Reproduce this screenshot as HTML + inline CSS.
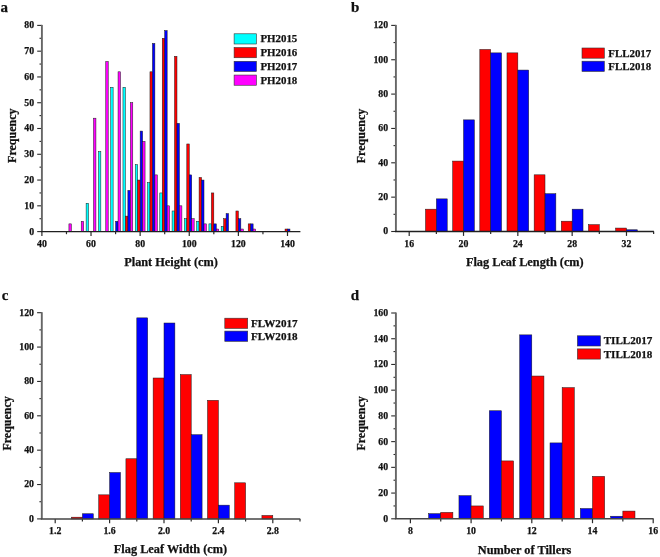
<!DOCTYPE html>
<html><head><meta charset="utf-8"><style>
html,body{margin:0;padding:0;background:#fff;}
body{width:660px;height:557px;overflow:hidden;}
svg{display:block;will-change:transform;filter:blur(0.3px);}
text{font-family:"Liberation Serif",serif;font-weight:bold;fill:#111;stroke:#111;stroke-width:0.25px;}
</style></head><body>
<svg width="660" height="557" viewBox="0 0 660 557">
<rect width="660" height="557" fill="#fff"/>
<rect x="86.11" y="203.25" width="2.46" height="28.35" fill="#00ffff" stroke="#1a1a1a" stroke-width="0.5"/>
<rect x="98.39" y="151.7" width="2.46" height="79.9" fill="#00ffff" stroke="#1a1a1a" stroke-width="0.5"/>
<rect x="110.67" y="87.26" width="2.46" height="144.34" fill="#00ffff" stroke="#1a1a1a" stroke-width="0.5"/>
<rect x="122.95" y="87.26" width="2.46" height="144.34" fill="#00ffff" stroke="#1a1a1a" stroke-width="0.5"/>
<rect x="135.23" y="164.59" width="2.46" height="67.01" fill="#00ffff" stroke="#1a1a1a" stroke-width="0.5"/>
<rect x="147.51" y="182.63" width="2.46" height="48.97" fill="#00ffff" stroke="#1a1a1a" stroke-width="0.5"/>
<rect x="159.79" y="192.94" width="2.46" height="38.66" fill="#00ffff" stroke="#1a1a1a" stroke-width="0.5"/>
<rect x="172.07" y="210.98" width="2.46" height="20.62" fill="#00ffff" stroke="#1a1a1a" stroke-width="0.5"/>
<rect x="184.35" y="218.71" width="2.46" height="12.89" fill="#00ffff" stroke="#1a1a1a" stroke-width="0.5"/>
<rect x="196.63" y="221.29" width="2.46" height="10.31" fill="#00ffff" stroke="#1a1a1a" stroke-width="0.5"/>
<rect x="208.91" y="223.87" width="2.46" height="7.73" fill="#00ffff" stroke="#1a1a1a" stroke-width="0.5"/>
<rect x="221.19" y="226.44" width="2.46" height="5.16" fill="#00ffff" stroke="#1a1a1a" stroke-width="0.5"/>
<rect x="125.4" y="216.13" width="2.46" height="15.47" fill="#ff0000" stroke="#1a1a1a" stroke-width="0.5"/>
<rect x="137.68" y="180.05" width="2.46" height="51.55" fill="#ff0000" stroke="#1a1a1a" stroke-width="0.5"/>
<rect x="149.96" y="71.8" width="2.46" height="159.8" fill="#ff0000" stroke="#1a1a1a" stroke-width="0.5"/>
<rect x="162.24" y="38.29" width="2.46" height="193.31" fill="#ff0000" stroke="#1a1a1a" stroke-width="0.5"/>
<rect x="174.52" y="56.33" width="2.46" height="175.27" fill="#ff0000" stroke="#1a1a1a" stroke-width="0.5"/>
<rect x="186.8" y="143.97" width="2.46" height="87.63" fill="#ff0000" stroke="#1a1a1a" stroke-width="0.5"/>
<rect x="199.08" y="177.47" width="2.46" height="54.13" fill="#ff0000" stroke="#1a1a1a" stroke-width="0.5"/>
<rect x="211.36" y="192.94" width="2.46" height="38.66" fill="#ff0000" stroke="#1a1a1a" stroke-width="0.5"/>
<rect x="223.64" y="218.71" width="2.46" height="12.89" fill="#ff0000" stroke="#1a1a1a" stroke-width="0.5"/>
<rect x="235.92" y="210.98" width="2.46" height="20.62" fill="#ff0000" stroke="#1a1a1a" stroke-width="0.5"/>
<rect x="248.2" y="223.87" width="2.46" height="7.73" fill="#ff0000" stroke="#1a1a1a" stroke-width="0.5"/>
<rect x="285.04" y="229.02" width="2.46" height="2.58" fill="#ff0000" stroke="#1a1a1a" stroke-width="0.5"/>
<rect x="115.58" y="221.29" width="2.46" height="10.31" fill="#0000ff" stroke="#1a1a1a" stroke-width="0.5"/>
<rect x="127.86" y="190.36" width="2.46" height="41.24" fill="#0000ff" stroke="#1a1a1a" stroke-width="0.5"/>
<rect x="140.14" y="131.08" width="2.46" height="100.52" fill="#0000ff" stroke="#1a1a1a" stroke-width="0.5"/>
<rect x="152.42" y="43.44" width="2.46" height="188.16" fill="#0000ff" stroke="#1a1a1a" stroke-width="0.5"/>
<rect x="164.7" y="30.56" width="2.46" height="201.04" fill="#0000ff" stroke="#1a1a1a" stroke-width="0.5"/>
<rect x="176.98" y="123.35" width="2.46" height="108.25" fill="#0000ff" stroke="#1a1a1a" stroke-width="0.5"/>
<rect x="189.26" y="174.9" width="2.46" height="56.7" fill="#0000ff" stroke="#1a1a1a" stroke-width="0.5"/>
<rect x="201.54" y="180.05" width="2.46" height="51.55" fill="#0000ff" stroke="#1a1a1a" stroke-width="0.5"/>
<rect x="213.82" y="223.87" width="2.46" height="7.73" fill="#0000ff" stroke="#1a1a1a" stroke-width="0.5"/>
<rect x="226.1" y="213.56" width="2.46" height="18.04" fill="#0000ff" stroke="#1a1a1a" stroke-width="0.5"/>
<rect x="238.38" y="218.71" width="2.46" height="12.89" fill="#0000ff" stroke="#1a1a1a" stroke-width="0.5"/>
<rect x="250.66" y="223.87" width="2.46" height="7.73" fill="#0000ff" stroke="#1a1a1a" stroke-width="0.5"/>
<rect x="287.5" y="229.02" width="2.46" height="2.58" fill="#0000ff" stroke="#1a1a1a" stroke-width="0.5"/>
<rect x="68.92" y="223.87" width="2.46" height="7.73" fill="#ff00ff" stroke="#1a1a1a" stroke-width="0.5"/>
<rect x="81.2" y="221.29" width="2.46" height="10.31" fill="#ff00ff" stroke="#1a1a1a" stroke-width="0.5"/>
<rect x="93.48" y="118.19" width="2.46" height="113.41" fill="#ff00ff" stroke="#1a1a1a" stroke-width="0.5"/>
<rect x="105.76" y="61.49" width="2.46" height="170.11" fill="#ff00ff" stroke="#1a1a1a" stroke-width="0.5"/>
<rect x="118.04" y="71.8" width="2.46" height="159.8" fill="#ff00ff" stroke="#1a1a1a" stroke-width="0.5"/>
<rect x="130.32" y="102.73" width="2.46" height="128.87" fill="#ff00ff" stroke="#1a1a1a" stroke-width="0.5"/>
<rect x="142.6" y="141.39" width="2.46" height="90.21" fill="#ff00ff" stroke="#1a1a1a" stroke-width="0.5"/>
<rect x="154.88" y="174.9" width="2.46" height="56.7" fill="#ff00ff" stroke="#1a1a1a" stroke-width="0.5"/>
<rect x="167.16" y="205.82" width="2.46" height="25.78" fill="#ff00ff" stroke="#1a1a1a" stroke-width="0.5"/>
<rect x="179.44" y="205.82" width="2.46" height="25.78" fill="#ff00ff" stroke="#1a1a1a" stroke-width="0.5"/>
<rect x="191.72" y="218.71" width="2.46" height="12.89" fill="#ff00ff" stroke="#1a1a1a" stroke-width="0.5"/>
<rect x="204" y="223.87" width="2.46" height="7.73" fill="#ff00ff" stroke="#1a1a1a" stroke-width="0.5"/>
<rect x="216.28" y="229.02" width="2.46" height="2.58" fill="#ff00ff" stroke="#1a1a1a" stroke-width="0.5"/>
<rect x="240.84" y="229.02" width="2.46" height="2.58" fill="#ff00ff" stroke="#1a1a1a" stroke-width="0.5"/>
<rect x="253.12" y="229.02" width="2.46" height="2.58" fill="#ff00ff" stroke="#1a1a1a" stroke-width="0.5"/>
<line x1="37.2" y1="231.6" x2="41.9" y2="231.6" stroke="#2a2a2a" stroke-width="1.1"/>
<text x="34.1" y="234.5" text-anchor="end" font-size="9.8">0</text>
<line x1="37.2" y1="205.82" x2="41.9" y2="205.82" stroke="#2a2a2a" stroke-width="1.1"/>
<text x="34.1" y="208.72" text-anchor="end" font-size="9.8">10</text>
<line x1="37.2" y1="180.05" x2="41.9" y2="180.05" stroke="#2a2a2a" stroke-width="1.1"/>
<text x="34.1" y="182.95" text-anchor="end" font-size="9.8">20</text>
<line x1="37.2" y1="154.28" x2="41.9" y2="154.28" stroke="#2a2a2a" stroke-width="1.1"/>
<text x="34.1" y="157.18" text-anchor="end" font-size="9.8">30</text>
<line x1="37.2" y1="128.5" x2="41.9" y2="128.5" stroke="#2a2a2a" stroke-width="1.1"/>
<text x="34.1" y="131.4" text-anchor="end" font-size="9.8">40</text>
<line x1="37.2" y1="102.73" x2="41.9" y2="102.73" stroke="#2a2a2a" stroke-width="1.1"/>
<text x="34.1" y="105.63" text-anchor="end" font-size="9.8">50</text>
<line x1="37.2" y1="76.95" x2="41.9" y2="76.95" stroke="#2a2a2a" stroke-width="1.1"/>
<text x="34.1" y="79.85" text-anchor="end" font-size="9.8">60</text>
<line x1="37.2" y1="51.18" x2="41.9" y2="51.18" stroke="#2a2a2a" stroke-width="1.1"/>
<text x="34.1" y="54.08" text-anchor="end" font-size="9.8">70</text>
<line x1="37.2" y1="25.4" x2="41.9" y2="25.4" stroke="#2a2a2a" stroke-width="1.1"/>
<text x="34.1" y="28.3" text-anchor="end" font-size="9.8">80</text>
<line x1="39.5" y1="218.71" x2="41.9" y2="218.71" stroke="#2a2a2a" stroke-width="1.1"/>
<line x1="39.5" y1="192.94" x2="41.9" y2="192.94" stroke="#2a2a2a" stroke-width="1.1"/>
<line x1="39.5" y1="167.16" x2="41.9" y2="167.16" stroke="#2a2a2a" stroke-width="1.1"/>
<line x1="39.5" y1="141.39" x2="41.9" y2="141.39" stroke="#2a2a2a" stroke-width="1.1"/>
<line x1="39.5" y1="115.61" x2="41.9" y2="115.61" stroke="#2a2a2a" stroke-width="1.1"/>
<line x1="39.5" y1="89.84" x2="41.9" y2="89.84" stroke="#2a2a2a" stroke-width="1.1"/>
<line x1="39.5" y1="64.06" x2="41.9" y2="64.06" stroke="#2a2a2a" stroke-width="1.1"/>
<line x1="39.5" y1="38.29" x2="41.9" y2="38.29" stroke="#2a2a2a" stroke-width="1.1"/>
<line x1="41.9" y1="231.6" x2="41.9" y2="236" stroke="#2a2a2a" stroke-width="1.2"/>
<text x="41.9" y="247" text-anchor="middle" font-size="9.8">40</text>
<line x1="91.02" y1="231.6" x2="91.02" y2="236" stroke="#2a2a2a" stroke-width="1.2"/>
<text x="91.02" y="247" text-anchor="middle" font-size="9.8">60</text>
<line x1="140.14" y1="231.6" x2="140.14" y2="236" stroke="#2a2a2a" stroke-width="1.2"/>
<text x="140.14" y="247" text-anchor="middle" font-size="9.8">80</text>
<line x1="189.26" y1="231.6" x2="189.26" y2="236" stroke="#2a2a2a" stroke-width="1.2"/>
<text x="189.26" y="247" text-anchor="middle" font-size="9.8">100</text>
<line x1="238.38" y1="231.6" x2="238.38" y2="236" stroke="#2a2a2a" stroke-width="1.2"/>
<text x="238.38" y="247" text-anchor="middle" font-size="9.8">120</text>
<line x1="287.5" y1="231.6" x2="287.5" y2="236" stroke="#2a2a2a" stroke-width="1.2"/>
<text x="287.5" y="247" text-anchor="middle" font-size="9.8">140</text>
<line x1="66.46" y1="231.6" x2="66.46" y2="234.2" stroke="#2a2a2a" stroke-width="1.2"/>
<line x1="115.58" y1="231.6" x2="115.58" y2="234.2" stroke="#2a2a2a" stroke-width="1.2"/>
<line x1="164.7" y1="231.6" x2="164.7" y2="234.2" stroke="#2a2a2a" stroke-width="1.2"/>
<line x1="213.82" y1="231.6" x2="213.82" y2="234.2" stroke="#2a2a2a" stroke-width="1.2"/>
<line x1="262.94" y1="231.6" x2="262.94" y2="234.2" stroke="#2a2a2a" stroke-width="1.2"/>
<line x1="41.9" y1="24.9" x2="41.9" y2="231.6" stroke="#666" stroke-width="1.9"/>
<line x1="40.9" y1="231.6" x2="300.4" y2="231.6" stroke="#202020" stroke-width="1.3"/>
<text x="171" y="265.7" text-anchor="middle" font-size="12.3">Plant Height (cm)</text>
<text transform="translate(16.1,135.7) rotate(-90)" text-anchor="middle" font-size="12">Frequency</text>
<text x="0.6" y="11.7" font-size="15">a</text>
<rect x="234.1" y="33.8" width="22.3" height="10.2" fill="#00ffff" stroke="#333" stroke-width="0.6"/>
<text x="260.4" y="42.4" font-size="10.9">PH2015</text>
<rect x="234.1" y="47.55" width="22.3" height="10.2" fill="#ff0000" stroke="#333" stroke-width="0.6"/>
<text x="260.4" y="56.15" font-size="10.9">PH2016</text>
<rect x="234.1" y="61.3" width="22.3" height="10.2" fill="#0000ff" stroke="#333" stroke-width="0.6"/>
<text x="260.4" y="69.9" font-size="10.9">PH2017</text>
<rect x="234.1" y="75.05" width="22.3" height="10.2" fill="#ff00ff" stroke="#333" stroke-width="0.6"/>
<text x="260.4" y="83.65" font-size="10.9">PH2018</text>
<rect x="425.5" y="209.17" width="10.86" height="22.33" fill="#ff0000" stroke="#1a1a1a" stroke-width="0.5"/>
<rect x="452.66" y="161.08" width="10.86" height="70.42" fill="#ff0000" stroke="#1a1a1a" stroke-width="0.5"/>
<rect x="479.82" y="49.44" width="10.86" height="182.06" fill="#ff0000" stroke="#1a1a1a" stroke-width="0.5"/>
<rect x="506.98" y="52.88" width="10.86" height="178.62" fill="#ff0000" stroke="#1a1a1a" stroke-width="0.5"/>
<rect x="534.14" y="174.82" width="10.86" height="56.68" fill="#ff0000" stroke="#1a1a1a" stroke-width="0.5"/>
<rect x="561.3" y="221.19" width="10.86" height="10.31" fill="#ff0000" stroke="#1a1a1a" stroke-width="0.5"/>
<rect x="588.46" y="224.63" width="10.86" height="6.87" fill="#ff0000" stroke="#1a1a1a" stroke-width="0.5"/>
<rect x="615.62" y="228.06" width="10.86" height="3.44" fill="#ff0000" stroke="#1a1a1a" stroke-width="0.5"/>
<rect x="436.36" y="198.87" width="10.86" height="32.63" fill="#0000ff" stroke="#1a1a1a" stroke-width="0.5"/>
<rect x="463.52" y="119.86" width="10.86" height="111.64" fill="#0000ff" stroke="#1a1a1a" stroke-width="0.5"/>
<rect x="490.68" y="52.88" width="10.86" height="178.62" fill="#0000ff" stroke="#1a1a1a" stroke-width="0.5"/>
<rect x="517.84" y="70.06" width="10.86" height="161.44" fill="#0000ff" stroke="#1a1a1a" stroke-width="0.5"/>
<rect x="545" y="193.72" width="10.86" height="37.78" fill="#0000ff" stroke="#1a1a1a" stroke-width="0.5"/>
<rect x="572.16" y="209.17" width="10.86" height="22.33" fill="#0000ff" stroke="#1a1a1a" stroke-width="0.5"/>
<rect x="626.48" y="229.78" width="10.86" height="1.72" fill="#0000ff" stroke="#1a1a1a" stroke-width="0.5"/>
<line x1="391.2" y1="231.5" x2="395.9" y2="231.5" stroke="#2a2a2a" stroke-width="1.1"/>
<text x="388.1" y="234.4" text-anchor="end" font-size="9.8">0</text>
<line x1="391.2" y1="197.15" x2="395.9" y2="197.15" stroke="#2a2a2a" stroke-width="1.1"/>
<text x="388.1" y="200.05" text-anchor="end" font-size="9.8">20</text>
<line x1="391.2" y1="162.8" x2="395.9" y2="162.8" stroke="#2a2a2a" stroke-width="1.1"/>
<text x="388.1" y="165.7" text-anchor="end" font-size="9.8">40</text>
<line x1="391.2" y1="128.45" x2="395.9" y2="128.45" stroke="#2a2a2a" stroke-width="1.1"/>
<text x="388.1" y="131.35" text-anchor="end" font-size="9.8">60</text>
<line x1="391.2" y1="94.1" x2="395.9" y2="94.1" stroke="#2a2a2a" stroke-width="1.1"/>
<text x="388.1" y="97" text-anchor="end" font-size="9.8">80</text>
<line x1="391.2" y1="59.75" x2="395.9" y2="59.75" stroke="#2a2a2a" stroke-width="1.1"/>
<text x="388.1" y="62.65" text-anchor="end" font-size="9.8">100</text>
<line x1="391.2" y1="25.4" x2="395.9" y2="25.4" stroke="#2a2a2a" stroke-width="1.1"/>
<text x="388.1" y="28.3" text-anchor="end" font-size="9.8">120</text>
<line x1="393.5" y1="214.32" x2="395.9" y2="214.32" stroke="#2a2a2a" stroke-width="1.1"/>
<line x1="393.5" y1="179.97" x2="395.9" y2="179.97" stroke="#2a2a2a" stroke-width="1.1"/>
<line x1="393.5" y1="145.62" x2="395.9" y2="145.62" stroke="#2a2a2a" stroke-width="1.1"/>
<line x1="393.5" y1="111.27" x2="395.9" y2="111.27" stroke="#2a2a2a" stroke-width="1.1"/>
<line x1="393.5" y1="76.93" x2="395.9" y2="76.93" stroke="#2a2a2a" stroke-width="1.1"/>
<line x1="393.5" y1="42.57" x2="395.9" y2="42.57" stroke="#2a2a2a" stroke-width="1.1"/>
<line x1="409.2" y1="231.5" x2="409.2" y2="235.9" stroke="#2a2a2a" stroke-width="1.2"/>
<text x="409.2" y="246.9" text-anchor="middle" font-size="9.8">16</text>
<line x1="463.52" y1="231.5" x2="463.52" y2="235.9" stroke="#2a2a2a" stroke-width="1.2"/>
<text x="463.52" y="246.9" text-anchor="middle" font-size="9.8">20</text>
<line x1="517.84" y1="231.5" x2="517.84" y2="235.9" stroke="#2a2a2a" stroke-width="1.2"/>
<text x="517.84" y="246.9" text-anchor="middle" font-size="9.8">24</text>
<line x1="572.16" y1="231.5" x2="572.16" y2="235.9" stroke="#2a2a2a" stroke-width="1.2"/>
<text x="572.16" y="246.9" text-anchor="middle" font-size="9.8">28</text>
<line x1="626.48" y1="231.5" x2="626.48" y2="235.9" stroke="#2a2a2a" stroke-width="1.2"/>
<text x="626.48" y="246.9" text-anchor="middle" font-size="9.8">32</text>
<line x1="436.36" y1="231.5" x2="436.36" y2="234.1" stroke="#2a2a2a" stroke-width="1.2"/>
<line x1="490.68" y1="231.5" x2="490.68" y2="234.1" stroke="#2a2a2a" stroke-width="1.2"/>
<line x1="545" y1="231.5" x2="545" y2="234.1" stroke="#2a2a2a" stroke-width="1.2"/>
<line x1="599.32" y1="231.5" x2="599.32" y2="234.1" stroke="#2a2a2a" stroke-width="1.2"/>
<line x1="653.64" y1="231.5" x2="653.64" y2="234.1" stroke="#2a2a2a" stroke-width="1.2"/>
<line x1="395.9" y1="24.9" x2="395.9" y2="231.5" stroke="#666" stroke-width="1.9"/>
<line x1="394.9" y1="231.5" x2="653.9" y2="231.5" stroke="#202020" stroke-width="1.3"/>
<text x="524.8" y="265.7" text-anchor="middle" font-size="12.3">Flag Leaf Length (cm)</text>
<text transform="translate(365.4,136) rotate(-90)" text-anchor="middle" font-size="12">Frequency</text>
<text x="350.9" y="11.7" font-size="15">b</text>
<rect x="582" y="48" width="22.3" height="10.2" fill="#ff0000" stroke="#333" stroke-width="0.6"/>
<text x="608.3" y="56.6" font-size="10.9">FLL2017</text>
<rect x="582" y="61.2" width="22.3" height="10.2" fill="#0000ff" stroke="#333" stroke-width="0.6"/>
<text x="608.3" y="69.8" font-size="10.9">FLL2018</text>
<rect x="71.52" y="517.18" width="10.88" height="1.72" fill="#ff0000" stroke="#1a1a1a" stroke-width="0.5"/>
<rect x="98.72" y="494.84" width="10.88" height="24.06" fill="#ff0000" stroke="#1a1a1a" stroke-width="0.5"/>
<rect x="125.92" y="458.76" width="10.88" height="60.14" fill="#ff0000" stroke="#1a1a1a" stroke-width="0.5"/>
<rect x="153.12" y="378" width="10.88" height="140.9" fill="#ff0000" stroke="#1a1a1a" stroke-width="0.5"/>
<rect x="180.32" y="374.56" width="10.88" height="144.34" fill="#ff0000" stroke="#1a1a1a" stroke-width="0.5"/>
<rect x="207.52" y="400.33" width="10.88" height="118.56" fill="#ff0000" stroke="#1a1a1a" stroke-width="0.5"/>
<rect x="234.72" y="482.81" width="10.88" height="36.08" fill="#ff0000" stroke="#1a1a1a" stroke-width="0.5"/>
<rect x="261.92" y="515.46" width="10.88" height="3.44" fill="#ff0000" stroke="#1a1a1a" stroke-width="0.5"/>
<rect x="82.4" y="513.75" width="10.88" height="5.15" fill="#0000ff" stroke="#1a1a1a" stroke-width="0.5"/>
<rect x="109.6" y="472.5" width="10.88" height="46.39" fill="#0000ff" stroke="#1a1a1a" stroke-width="0.5"/>
<rect x="136.8" y="317.86" width="10.88" height="201.04" fill="#0000ff" stroke="#1a1a1a" stroke-width="0.5"/>
<rect x="164" y="323.01" width="10.88" height="195.89" fill="#0000ff" stroke="#1a1a1a" stroke-width="0.5"/>
<rect x="191.2" y="434.7" width="10.88" height="84.2" fill="#0000ff" stroke="#1a1a1a" stroke-width="0.5"/>
<rect x="218.4" y="505.15" width="10.88" height="13.75" fill="#0000ff" stroke="#1a1a1a" stroke-width="0.5"/>
<line x1="37.1" y1="518.9" x2="41.8" y2="518.9" stroke="#2a2a2a" stroke-width="1.1"/>
<text x="34" y="521.8" text-anchor="end" font-size="9.8">0</text>
<line x1="37.1" y1="484.53" x2="41.8" y2="484.53" stroke="#2a2a2a" stroke-width="1.1"/>
<text x="34" y="487.43" text-anchor="end" font-size="9.8">20</text>
<line x1="37.1" y1="450.17" x2="41.8" y2="450.17" stroke="#2a2a2a" stroke-width="1.1"/>
<text x="34" y="453.07" text-anchor="end" font-size="9.8">40</text>
<line x1="37.1" y1="415.8" x2="41.8" y2="415.8" stroke="#2a2a2a" stroke-width="1.1"/>
<text x="34" y="418.7" text-anchor="end" font-size="9.8">60</text>
<line x1="37.1" y1="381.43" x2="41.8" y2="381.43" stroke="#2a2a2a" stroke-width="1.1"/>
<text x="34" y="384.33" text-anchor="end" font-size="9.8">80</text>
<line x1="37.1" y1="347.07" x2="41.8" y2="347.07" stroke="#2a2a2a" stroke-width="1.1"/>
<text x="34" y="349.97" text-anchor="end" font-size="9.8">100</text>
<line x1="37.1" y1="312.7" x2="41.8" y2="312.7" stroke="#2a2a2a" stroke-width="1.1"/>
<text x="34" y="315.6" text-anchor="end" font-size="9.8">120</text>
<line x1="39.4" y1="501.72" x2="41.8" y2="501.72" stroke="#2a2a2a" stroke-width="1.1"/>
<line x1="39.4" y1="467.35" x2="41.8" y2="467.35" stroke="#2a2a2a" stroke-width="1.1"/>
<line x1="39.4" y1="432.98" x2="41.8" y2="432.98" stroke="#2a2a2a" stroke-width="1.1"/>
<line x1="39.4" y1="398.62" x2="41.8" y2="398.62" stroke="#2a2a2a" stroke-width="1.1"/>
<line x1="39.4" y1="364.25" x2="41.8" y2="364.25" stroke="#2a2a2a" stroke-width="1.1"/>
<line x1="39.4" y1="329.88" x2="41.8" y2="329.88" stroke="#2a2a2a" stroke-width="1.1"/>
<line x1="55.2" y1="518.9" x2="55.2" y2="523.3" stroke="#2a2a2a" stroke-width="1.2"/>
<text x="55.2" y="534.3" text-anchor="middle" font-size="9.8">1.2</text>
<line x1="109.6" y1="518.9" x2="109.6" y2="523.3" stroke="#2a2a2a" stroke-width="1.2"/>
<text x="109.6" y="534.3" text-anchor="middle" font-size="9.8">1.6</text>
<line x1="164" y1="518.9" x2="164" y2="523.3" stroke="#2a2a2a" stroke-width="1.2"/>
<text x="164" y="534.3" text-anchor="middle" font-size="9.8">2.0</text>
<line x1="218.4" y1="518.9" x2="218.4" y2="523.3" stroke="#2a2a2a" stroke-width="1.2"/>
<text x="218.4" y="534.3" text-anchor="middle" font-size="9.8">2.4</text>
<line x1="272.8" y1="518.9" x2="272.8" y2="523.3" stroke="#2a2a2a" stroke-width="1.2"/>
<text x="272.8" y="534.3" text-anchor="middle" font-size="9.8">2.8</text>
<line x1="82.4" y1="518.9" x2="82.4" y2="521.5" stroke="#2a2a2a" stroke-width="1.2"/>
<line x1="136.8" y1="518.9" x2="136.8" y2="521.5" stroke="#2a2a2a" stroke-width="1.2"/>
<line x1="191.2" y1="518.9" x2="191.2" y2="521.5" stroke="#2a2a2a" stroke-width="1.2"/>
<line x1="245.6" y1="518.9" x2="245.6" y2="521.5" stroke="#2a2a2a" stroke-width="1.2"/>
<line x1="300" y1="518.9" x2="300" y2="521.5" stroke="#2a2a2a" stroke-width="1.2"/>
<line x1="41.8" y1="312.2" x2="41.8" y2="518.9" stroke="#666" stroke-width="1.9"/>
<line x1="40.8" y1="518.9" x2="300.3" y2="518.9" stroke="#444" stroke-width="1.5"/>
<text x="170.5" y="552.7" text-anchor="middle" font-size="12.3">Flag Leaf Width (cm)</text>
<text transform="translate(10.8,423.4) rotate(-90)" text-anchor="middle" font-size="12">Frequency</text>
<text x="1.7" y="300.1" font-size="15">c</text>
<rect x="224.8" y="318.2" width="22.9" height="10.2" fill="#ff0000" stroke="#333" stroke-width="0.6"/>
<text x="251.1" y="326.8" font-size="11.1">FLW2017</text>
<rect x="224.8" y="331.1" width="22.9" height="10.2" fill="#0000ff" stroke="#333" stroke-width="0.6"/>
<text x="251.1" y="339.7" font-size="11.1">FLW2018</text>
<rect x="428.61" y="513.65" width="12.14" height="5.14" fill="#0000ff" stroke="#1a1a1a" stroke-width="0.5"/>
<rect x="458.96" y="495.65" width="12.14" height="23.15" fill="#0000ff" stroke="#1a1a1a" stroke-width="0.5"/>
<rect x="489.31" y="410.75" width="12.14" height="108.04" fill="#0000ff" stroke="#1a1a1a" stroke-width="0.5"/>
<rect x="519.66" y="334.87" width="12.14" height="183.93" fill="#0000ff" stroke="#1a1a1a" stroke-width="0.5"/>
<rect x="550.01" y="442.91" width="12.14" height="75.89" fill="#0000ff" stroke="#1a1a1a" stroke-width="0.5"/>
<rect x="580.36" y="508.51" width="12.14" height="10.29" fill="#0000ff" stroke="#1a1a1a" stroke-width="0.5"/>
<rect x="610.71" y="516.23" width="12.14" height="2.57" fill="#0000ff" stroke="#1a1a1a" stroke-width="0.5"/>
<rect x="440.75" y="512.37" width="12.14" height="6.43" fill="#ff0000" stroke="#1a1a1a" stroke-width="0.5"/>
<rect x="471.1" y="505.94" width="12.14" height="12.86" fill="#ff0000" stroke="#1a1a1a" stroke-width="0.5"/>
<rect x="501.45" y="460.92" width="12.14" height="57.88" fill="#ff0000" stroke="#1a1a1a" stroke-width="0.5"/>
<rect x="531.8" y="376.03" width="12.14" height="142.77" fill="#ff0000" stroke="#1a1a1a" stroke-width="0.5"/>
<rect x="562.15" y="387.6" width="12.14" height="131.2" fill="#ff0000" stroke="#1a1a1a" stroke-width="0.5"/>
<rect x="592.5" y="476.35" width="12.14" height="42.45" fill="#ff0000" stroke="#1a1a1a" stroke-width="0.5"/>
<rect x="622.85" y="511.08" width="12.14" height="7.72" fill="#ff0000" stroke="#1a1a1a" stroke-width="0.5"/>
<line x1="391.2" y1="518.8" x2="395.9" y2="518.8" stroke="#2a2a2a" stroke-width="1.1"/>
<text x="388.1" y="521.7" text-anchor="end" font-size="9.8">0</text>
<line x1="391.2" y1="493.07" x2="395.9" y2="493.07" stroke="#2a2a2a" stroke-width="1.1"/>
<text x="388.1" y="495.97" text-anchor="end" font-size="9.8">20</text>
<line x1="391.2" y1="467.35" x2="395.9" y2="467.35" stroke="#2a2a2a" stroke-width="1.1"/>
<text x="388.1" y="470.25" text-anchor="end" font-size="9.8">40</text>
<line x1="391.2" y1="441.62" x2="395.9" y2="441.62" stroke="#2a2a2a" stroke-width="1.1"/>
<text x="388.1" y="444.52" text-anchor="end" font-size="9.8">60</text>
<line x1="391.2" y1="415.9" x2="395.9" y2="415.9" stroke="#2a2a2a" stroke-width="1.1"/>
<text x="388.1" y="418.8" text-anchor="end" font-size="9.8">80</text>
<line x1="391.2" y1="390.17" x2="395.9" y2="390.17" stroke="#2a2a2a" stroke-width="1.1"/>
<text x="388.1" y="393.07" text-anchor="end" font-size="9.8">100</text>
<line x1="391.2" y1="364.45" x2="395.9" y2="364.45" stroke="#2a2a2a" stroke-width="1.1"/>
<text x="388.1" y="367.35" text-anchor="end" font-size="9.8">120</text>
<line x1="391.2" y1="338.73" x2="395.9" y2="338.73" stroke="#2a2a2a" stroke-width="1.1"/>
<text x="388.1" y="341.62" text-anchor="end" font-size="9.8">140</text>
<line x1="391.2" y1="313" x2="395.9" y2="313" stroke="#2a2a2a" stroke-width="1.1"/>
<text x="388.1" y="315.9" text-anchor="end" font-size="9.8">160</text>
<line x1="393.5" y1="505.94" x2="395.9" y2="505.94" stroke="#2a2a2a" stroke-width="1.1"/>
<line x1="393.5" y1="480.21" x2="395.9" y2="480.21" stroke="#2a2a2a" stroke-width="1.1"/>
<line x1="393.5" y1="454.49" x2="395.9" y2="454.49" stroke="#2a2a2a" stroke-width="1.1"/>
<line x1="393.5" y1="428.76" x2="395.9" y2="428.76" stroke="#2a2a2a" stroke-width="1.1"/>
<line x1="393.5" y1="403.04" x2="395.9" y2="403.04" stroke="#2a2a2a" stroke-width="1.1"/>
<line x1="393.5" y1="377.31" x2="395.9" y2="377.31" stroke="#2a2a2a" stroke-width="1.1"/>
<line x1="393.5" y1="351.59" x2="395.9" y2="351.59" stroke="#2a2a2a" stroke-width="1.1"/>
<line x1="393.5" y1="325.86" x2="395.9" y2="325.86" stroke="#2a2a2a" stroke-width="1.1"/>
<line x1="410.4" y1="518.8" x2="410.4" y2="523.2" stroke="#2a2a2a" stroke-width="1.2"/>
<text x="410.4" y="534.2" text-anchor="middle" font-size="9.8">8</text>
<line x1="471.1" y1="518.8" x2="471.1" y2="523.2" stroke="#2a2a2a" stroke-width="1.2"/>
<text x="471.1" y="534.2" text-anchor="middle" font-size="9.8">10</text>
<line x1="531.8" y1="518.8" x2="531.8" y2="523.2" stroke="#2a2a2a" stroke-width="1.2"/>
<text x="531.8" y="534.2" text-anchor="middle" font-size="9.8">12</text>
<line x1="592.5" y1="518.8" x2="592.5" y2="523.2" stroke="#2a2a2a" stroke-width="1.2"/>
<text x="592.5" y="534.2" text-anchor="middle" font-size="9.8">14</text>
<line x1="653.2" y1="518.8" x2="653.2" y2="523.2" stroke="#2a2a2a" stroke-width="1.2"/>
<text x="653.2" y="534.2" text-anchor="middle" font-size="9.8">16</text>
<line x1="440.75" y1="518.8" x2="440.75" y2="521.4" stroke="#2a2a2a" stroke-width="1.2"/>
<line x1="501.45" y1="518.8" x2="501.45" y2="521.4" stroke="#2a2a2a" stroke-width="1.2"/>
<line x1="562.15" y1="518.8" x2="562.15" y2="521.4" stroke="#2a2a2a" stroke-width="1.2"/>
<line x1="622.85" y1="518.8" x2="622.85" y2="521.4" stroke="#2a2a2a" stroke-width="1.2"/>
<line x1="395.9" y1="312.5" x2="395.9" y2="518.8" stroke="#666" stroke-width="1.9"/>
<line x1="394.9" y1="518.8" x2="653.6" y2="518.8" stroke="#444" stroke-width="1.5"/>
<text x="524.6" y="553.6" text-anchor="middle" font-size="12.3">Number of Tillers</text>
<text transform="translate(365.4,423.4) rotate(-90)" text-anchor="middle" font-size="12">Frequency</text>
<text x="350.7" y="300.1" font-size="15">d</text>
<rect x="577.4" y="335.8" width="23.1" height="10.2" fill="#0000ff" stroke="#333" stroke-width="0.6"/>
<text x="603.7" y="344.4" font-size="11.1">TILL2017</text>
<rect x="577.4" y="348.9" width="23.1" height="10.2" fill="#ff0000" stroke="#333" stroke-width="0.6"/>
<text x="603.7" y="357.5" font-size="11.1">TILL2018</text>
</svg>
</body></html>
